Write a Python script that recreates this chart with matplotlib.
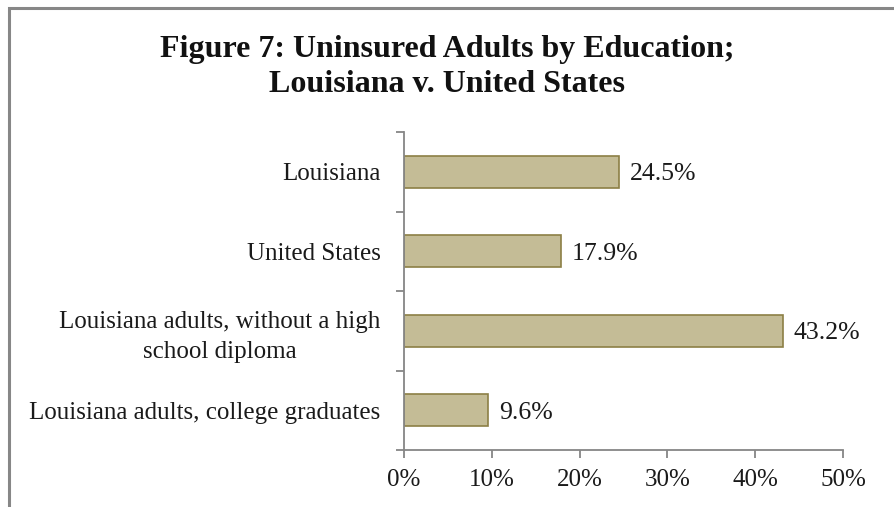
import matplotlib
matplotlib.use("Agg")
import matplotlib.pyplot as plt
from matplotlib.patches import Rectangle

categories = [
    "Louisiana",
    "United States",
    "Louisiana adults, without a high\nschool diploma",
    "Louisiana adults, college graduates",
]
values = [24.5, 17.9, 43.2, 9.6]
value_labels = ["24.5%", "17.9%", "43.2%", "9.6%"]
xticks = [0, 10, 20, 30, 40, 50]
xtick_labels = ["0%", "10%", "20%", "30%", "40%", "50%"]

plt.rcParams["font.family"] = ["Liberation Serif", "DejaVu Serif"]

W, H = 894, 507
fig = plt.figure(figsize=(W / 100, H / 100), dpi=100)
ax = fig.add_axes([404 / W, 1 - 450 / H, (843 - 404) / W, (450 - 132) / H])

axis_grey = "#868686"
text_col = "#1a1a1a"
fs = 18
ypos = list(range(len(categories)))
ax.barh(ypos, values, height=0.4, color="#C4BC96", edgecolor="#8C7F45", linewidth=1.2)

for y, v, lab in zip(ypos, values, value_labels):
    ax.text(v + 1.2, y, lab, va="center_baseline", ha="left", fontsize=fs + 0.5, color=text_col)

ax.set_xlim(0, 50)
ax.set_ylim(len(categories) - 0.5, -0.5)
ax.set_xticks(xticks)
ax.set_xticklabels(xtick_labels, fontsize=fs, color=text_col)

# category labels sit between the tick marks on the y axis
ax.set_yticks([i - 0.5 for i in range(len(categories) + 1)])
ax.set_yticklabels([])
ax.set_yticks(ypos, minor=True)
ax.set_yticklabels(categories, minor=True, fontsize=fs, color=text_col,
                   ha="right", linespacing=1.45)
for t in ax.get_yticklabels(minor=True):
    t.set_multialignment("center")
ax.tick_params(axis="y", which="minor", length=0, pad=17)
ax.tick_params(axis="y", which="major", length=6, width=1.3, color=axis_grey, direction="out")
ax.tick_params(axis="x", length=6, width=1.3, color=axis_grey, direction="out", pad=8)

for side in ["top", "right"]:
    ax.spines[side].set_visible(False)
for side in ["left", "bottom"]:
    ax.spines[side].set_color(axis_grey)
    ax.spines[side].set_linewidth(1.3)

fig.text(447 / W, 1 - 67 / H,
         "Figure 7: Uninsured Adults by Education;\nLouisiana v. United States",
         ha="center", va="center", fontsize=23, fontweight="bold",
         linespacing=1.3, color="#111111")

# chart-area frame
fig.patches.append(Rectangle((8.5 / W, -0.1), 1.2, 1 - 7.5 / H + 0.1,
                             transform=fig.transFigure, fill=False,
                             edgecolor="#878787", linewidth=2.2))

fig.savefig("out.png", dpi=100)
